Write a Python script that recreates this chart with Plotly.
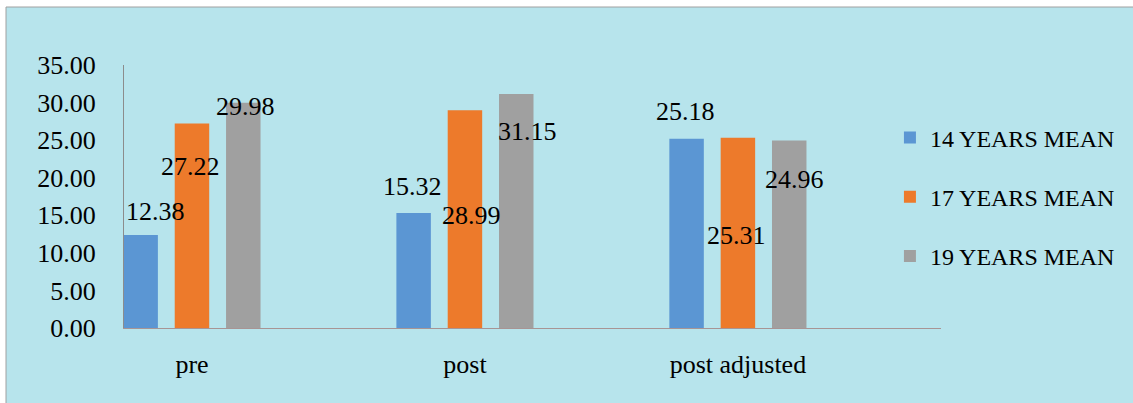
import plotly.graph_objects as go

# ---- data ----
categories = ["pre", "post", "post adjusted"]
series_names = ["14 YEARS MEAN", "17 YEARS MEAN", "19 YEARS MEAN"]
mean_14 = [12.38, 15.32, 25.18]
mean_17 = [27.22, 28.99, 25.31]
mean_19 = [29.98, 31.15, 24.96]
y_ticks = [0, 5, 10, 15, 20, 25, 30, 35]

# ---- style ----
colors = ["#5B96D3", "#ED7A2B", "#A0A0A0"]
FONT = "Liberation Serif, Times New Roman, serif"
FS = 26
BARGAP = 0.436
BARGROUPGAP = 0.328
# label offsets in pixels (dx, dy up) relative to bar top centre, as in the picture
label_offsets = [
    [(15, 23), (-1, 26), (-1, 27)],
    [(-1, -43), (7, -105), (-1, -98)],
    [(2, -4), (11, -38), (5, -39)],
]

series = [mean_14, mean_17, mean_19]

fig = go.Figure()
for i, (name, vals) in enumerate(zip(series_names, series)):
    fig.add_trace(go.Bar(
        x=categories, y=vals, name=name,
        marker=dict(color=colors[i], line=dict(width=0)),
        legendgroup=name,
    ))

slot = (1 - BARGAP) / len(series)
annotations = []
for i, vals in enumerate(series):
    for j, v in enumerate(vals):
        dx, dy = label_offsets[i][j]
        annotations.append(dict(
            x=j + (i - 1) * slot, y=v, xref="x", yref="y",
            text=f"{v:.2f}", showarrow=False,
            xanchor="center", yanchor="middle",
            xshift=dx, yshift=dy,
            font=dict(family=FONT, size=FS, color="#000000"),
        ))

fig.update_layout(
    width=1133, height=403,
    margin=dict(l=124, r=192, t=65, b=75, autoexpand=False),
    paper_bgcolor="#FFFFFF",
    plot_bgcolor="rgba(0,0,0,0)",
    barmode="group", bargap=BARGAP, bargroupgap=BARGROUPGAP,
    font=dict(family=FONT, size=FS, color="#000000"),
    showlegend=True,
    legend=dict(
        x=0.9375, xanchor="left", y=0.808, yanchor="top",
        bgcolor="rgba(0,0,0,0)", font=dict(family=FONT, size=24),
        tracegroupgap=25, itemwidth=30,
    ),
    annotations=annotations,
    shapes=[dict(
        type="rect", xref="paper", yref="paper", layer="below",
        x0=-118 / 817, x1=1.3, y0=-80 / 263, y1=1 + 58 / 263,
        fillcolor="#B7E4EC", line=dict(color="#A0A0A0", width=1),
    )],
)
fig.update_xaxes(
    range=[-0.249, 2.744], showline=True, linecolor="#A89494", linewidth=1,
    showgrid=False, zeroline=False, ticks="", ticklabelstandoff=13,
    tickfont=dict(family=FONT, size=FS),
)
fig.update_yaxes(
    range=[0, 35], tickvals=y_ticks, tickformat=".2f",
    showline=True, linecolor="#8C8C8C", linewidth=1,
    showgrid=False, zeroline=False, ticks="", ticklabelstandoff=22,
    tickfont=dict(family=FONT, size=FS),
)

fig.write_html("out.html")
